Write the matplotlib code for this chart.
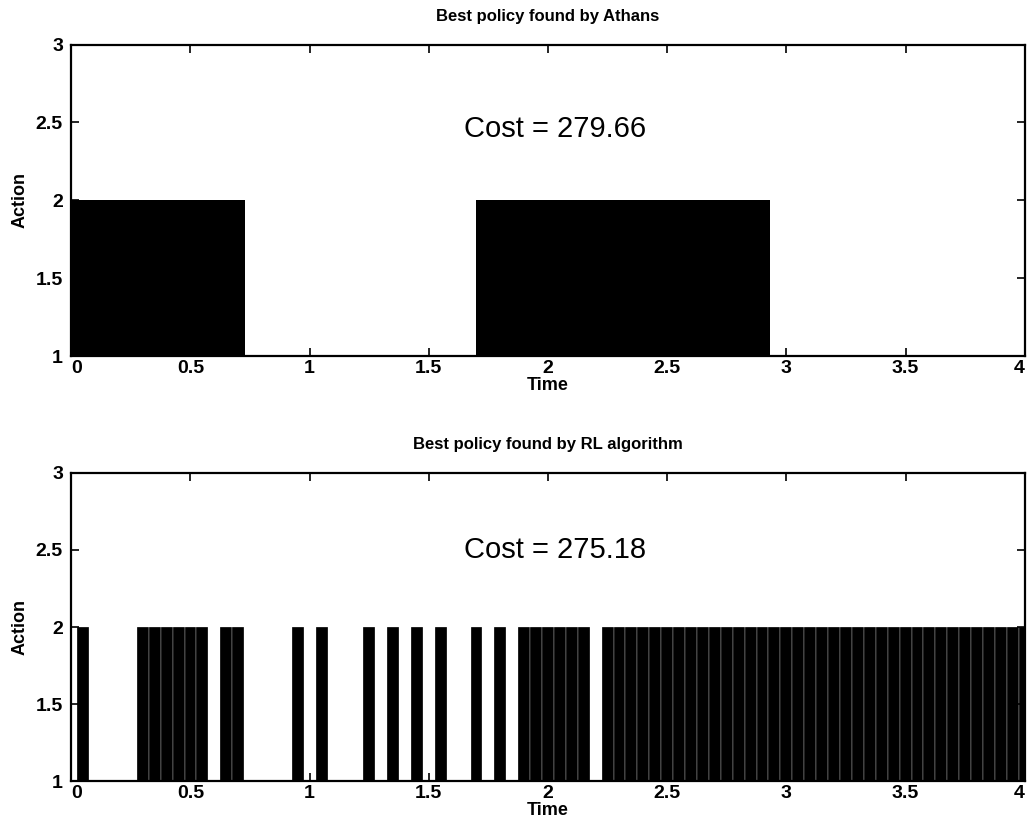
import numpy as np
import matplotlib
matplotlib.use("Agg")
import matplotlib.pyplot as plt

plt.rcParams['font.family'] = ['Liberation Sans', 'DejaVu Sans']

# Top panel: intervals where action = 2 (Athans policy)
athans_starts = [0.0, 1.70]
athans_ends = [0.73, 2.93]
athans_cost = "Cost = 279.66"

# Bottom panel: RL policy, action per time step (dt = 0.05)
dt = 0.05
rl_time = np.round(np.arange(0, 81) * dt, 2)
rl_action = [1, 2, 1, 1, 1, 1, 2, 2, 2, 2, 2, 2, 1, 2, 2, 1, 1, 1, 1, 2,
             1, 2, 1, 1, 1, 2, 1, 2, 1, 2, 1, 2, 1, 1, 2, 1, 2, 1, 2, 2,
             2, 2, 2, 2, 1, 2, 2, 2, 2, 2, 2, 2, 2, 2, 2, 2, 2, 2, 2, 2,
             2, 2, 2, 2, 2, 2, 2, 2, 2, 2, 2, 2, 2, 2, 2, 2, 2, 2, 2, 2,
             2]
rl_cost = "Cost = 275.18"

xticks = [0, 0.5, 1, 1.5, 2, 2.5, 3, 3.5, 4]
xticklabels = ['0', '0.5', '1', '1.5', '2', '2.5', '3', '3.5', '4']
yticks = [1, 1.5, 2, 2.5, 3]
yticklabels = ['1', '1.5', '2', '2.5', '3']

fig = plt.figure(figsize=(10.33, 8.4), dpi=100)
ax1 = fig.add_axes([0.069, 0.576, 0.923, 0.371])
ax2 = fig.add_axes([0.069, 0.070, 0.923, 0.367])


def style(ax, title):
    ax.set_xlim(0, 4)
    ax.set_ylim(1, 3)
    ax.set_xticks(xticks)
    labs = ax.set_xticklabels(xticklabels, fontweight='bold')
    labs[0].set_ha('left')
    labs[-1].set_ha('right')
    ax.set_yticks(yticks)
    ax.set_yticklabels(yticklabels, fontweight='bold')
    ax.tick_params(direction='in', top=True, right=True, length=6, width=1.2,
                   labelsize=14, colors='black')
    ax.tick_params(axis='y', pad=6)
    ax.tick_params(axis='x', pad=3)
    for s in ax.spines.values():
        s.set_linewidth(1.6)
        s.set_color('black')
    ax.set_xlabel('Time', fontsize=13, labelpad=0, fontweight='bold')
    ax.set_ylabel('Action', fontsize=13, labelpad=5, fontweight='bold')
    ax.set_title(title, fontsize=12, pad=17, fontweight='bold')


for s, e in zip(athans_starts, athans_ends):
    ax1.fill_between([s, e], 1, 2, color='black', linewidth=0)
ax1.text(2.03, 2.46, athans_cost, fontsize=21, ha='center', va='center')
style(ax1, 'Best policy found by Athans')

heights = np.array(rl_action) - 1
ax2.bar(rl_time, heights, bottom=1, width=dt, color='black',
        edgecolor='white', linewidth=0.2)
ax2.text(2.03, 2.5, rl_cost, fontsize=21, ha='center', va='center')
style(ax2, 'Best policy found by RL algorithm')

fig.savefig('out.png', dpi=100)
